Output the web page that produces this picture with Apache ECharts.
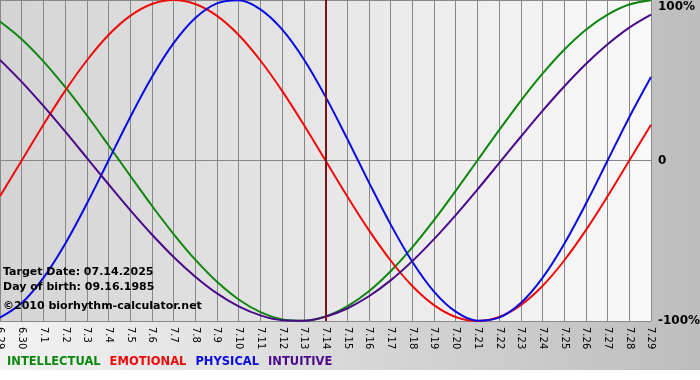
<!DOCTYPE html>
<html>
<head>
<meta charset="utf-8">
<script src="https://cdn.jsdelivr.net/npm/echarts@6/dist/echarts.min.js"></script>
<style>
html, body {margin: 0; padding: 0; background: #fff;}
#chart {width: 700px; height: 380px;}
</style>
</head>
<body>
<div id="chart"></div>
<script>
var days = ['6.29','6.30','7.1','7.2','7.3','7.4','7.5','7.6','7.7','7.8','7.9','7.10','7.11','7.12','7.13','7.14',
    '7.15','7.16','7.17','7.18','7.19','7.20','7.21','7.22','7.23','7.24','7.25','7.26','7.27','7.28','7.29'];
var intellectual = [86.6, 75.6, 61.8, 45.8, 28.2, 9.5, -9.5, -28.2, -45.8, -61.8, -75.6, -86.6, -94.5, -99.0, -99.9, -97.2,
    -90.9, -81.5, -69.0, -54.1, -37.2, -18.9, 0, 18.9, 37.2, 54.1, 69.0, 81.5, 90.9, 97.2, 99.9];
var emotional = [-22.3, 0, 22.3, 43.4, 62.3, 78.2, 90.1, 97.5, 100, 97.5, 90.1, 78.2, 62.3, 43.4, 22.3, 0,
    -22.3, -43.4, -62.3, -78.2, -90.1, -97.5, -100, -97.5, -90.1, -78.2, -62.3, -43.4, -22.3, 0, 22.3];
var physical = [-97.9, -88.8, -73.1, -52.0, -27.0, 0, 27.0, 52.0, 73.1, 88.8, 97.9, 99.8, 94.2, 81.7, 63.1, 39.8,
    13.6, -13.6, -39.8, -63.1, -81.7, -94.2, -99.8, -97.9, -88.8, -73.1, -52.0, -27.0, 0, 27.0, 52.0];
var intuitive = [62.7, 49.0, 34.0, 18.1, 1.7, -14.8, -30.9, -46.1, -60.1, -72.4, -82.8, -90.9, -96.5, -99.5, -99.8, -97.3,
    -92.2, -84.6, -74.7, -62.7, -49.0, -34.0, -18.1, -1.7, 14.8, 30.9, 46.1, 60.1, 72.4, 82.8, 90.9];
var targetDay = '7.14';

var font = 'DejaVu Sans, Verdana, sans-serif';
var names = ['INTELLECTUAL', 'EMOTIONAL', 'PHYSICAL', 'INTUITIVE'];
var colors = ['#0e870e', '#ee0a0a', '#0a0ae0', '#4a0a8a'];
var values = [intellectual, emotional, physical, intuitive];

var series = [];
for (var i = 0; i < names.length; i++) {
    series.push({
        name: names[i],
        type: 'line',
        data: values[i],
        smooth: 0.35,
        symbol: 'none',
        lineStyle: {width: 2, color: colors[i]},
        itemStyle: {color: colors[i]},
        z: 3
    });
}
// target date marker
series[0].markLine = {
    silent: true,
    symbol: 'none',
    label: {show: false},
    lineStyle: {type: 'solid', color: '#7a1414', width: 2},
    data: [{xAxis: targetDay}]
};

var dom = document.getElementById('chart');
var myChart = echarts.init(dom, null, {renderer: 'canvas'});
var option = {
    animation: false,
    backgroundColor: '#fff',
    color: colors,
    graphic: [
        {
            type: 'rect', z: -10, silent: true,
            shape: {x: 0, y: 0, width: 700, height: 370},
            style: {fill: new echarts.graphic.LinearGradient(0, 0, 1, 0, [
                {offset: 0, color: '#f2f2f2'}, {offset: 1, color: '#bdbdbd'}])}
        },
        {type: 'text', left: 3, top: 267, z: 10, style: {text: 'Target Date: 07.14.2025', font: 'bold 11px ' + font, fill: '#000'}},
        {type: 'text', left: 3, top: 282, z: 10, style: {text: 'Day of birth: 09.16.1985', font: 'bold 11px ' + font, fill: '#000'}},
        {type: 'text', left: 3, top: 301, z: 10, style: {text: '\u00a92010 biorhythm-calculator.net', font: 'bold 11px ' + font, fill: '#000'}}
    ],
    legend: {
        left: 2,
        top: 356,
        padding: 0,
        icon: 'none',
        itemWidth: 0,
        itemHeight: 0,
        itemGap: 4,
        selectedMode: false,
        data: names.map(function (n, k) {
            return {name: n, textStyle: {color: colors[k]}};
        }),
        textStyle: {fontFamily: font, fontSize: 11.5, fontWeight: 'bold', padding: 0}
    },
    grid: {
        left: 0,
        top: 0,
        right: 49,
        bottom: 59,
        outerBoundsMode: 'none',
        containLabel: false,
        show: true,
        borderWidth: 0,
        backgroundColor: new echarts.graphic.LinearGradient(0, 0, 1, 0, [
            {offset: 0, color: '#d4d4d4'}, {offset: 1, color: '#f9f9f9'}])
    },
    xAxis: {
        type: 'category',
        boundaryGap: false,
        data: days,
        axisLine: {show: true, lineStyle: {color: '#888', width: 1}},
        axisTick: {show: true, length: 4, lineStyle: {color: '#888'}},
        splitLine: {show: true, lineStyle: {color: '#888', width: 1}},
        axisLabel: {
            interval: 0,
            rotate: -90,
            margin: 6,
            fontFamily: font,
            fontSize: 10,
            color: '#000'
        }
    },
    yAxis: {
        type: 'value',
        position: 'right',
        min: -100,
        max: 100,
        interval: 100,
        axisLine: {show: false},
        axisTick: {show: false},
        splitLine: {show: true, lineStyle: {color: '#888', width: 1}},
        axisLabel: {
            margin: 7,
            fontFamily: font,
            fontSize: 12,
            fontWeight: 'bold',
            color: '#000',
            formatter: function (v) {
                if (v === 100) return '{top|100%}';
                return v === 0 ? '0' : v + '%';
            },
            rich: {
                top: {fontFamily: font, fontSize: 12, fontWeight: 'bold', color: '#000', padding: [14, 0, 0, 0]}
            }
        }
    },
    series: series
};
myChart.setOption(option, true);
</script>
</body>
</html>
